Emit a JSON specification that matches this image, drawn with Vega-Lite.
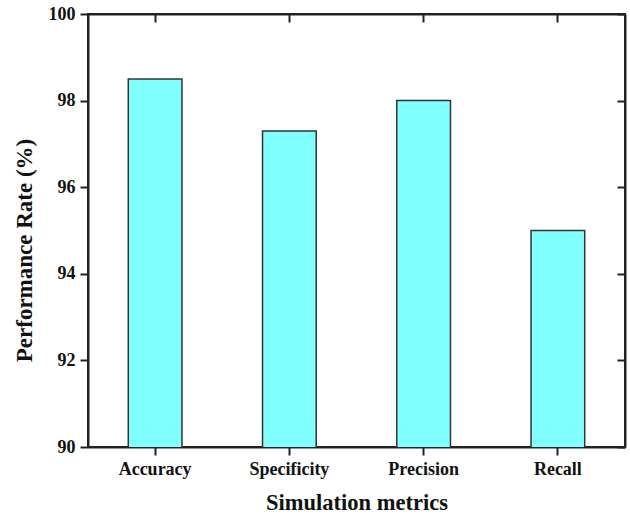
{
  "$schema": "https://vega.github.io/schema/vega-lite/v6.json",
  "width": 537,
  "height": 433,
  "autosize": {"type": "none"},
  "padding": {"left": 88, "top": 14, "right": 5, "bottom": 71},
  "background": "white",
  "config": {
    "view": {"stroke": "#222", "strokeWidth": 2},
    "font": "Liberation Serif"
  },
  "data": {"values": [
    {"metric": "Accuracy", "value": 98.5},
    {"metric": "Specificity", "value": 97.3},
    {"metric": "Precision", "value": 98.0},
    {"metric": "Recall", "value": 95.0}
  ]},
  "layer": [
    {
      "mark": {"type": "bar", "fill": "#80FFFF", "stroke": "#333", "strokeWidth": 1.5, "clip": true},
      "encoding": {
        "x": {"field": "metric", "type": "nominal", "sort": null,
          "scale": {"paddingInner": 0.6, "paddingOuter": 0.3},
          "axis": {"orient": "bottom", "labelAngle": 0, "labelPadding": 5, "title": "Simulation metrics",
            "domainColor": "#222", "domainWidth": 2, "tickColor": "#222", "tickWidth": 2, "tickSize": 8, "grid": false,
            "labelFont": "Liberation Serif", "labelFontWeight": "bold", "labelFontSize": 18, "labelColor": "#111",
            "titleFont": "Liberation Serif", "titleFontWeight": "bold", "titleColor": "#111", "titleFontSize": 22.5, "titlePadding": 13}},
        "y": {"field": "value", "type": "quantitative",
          "scale": {"domain": [90, 100], "zero": false, "nice": false},
          "axis": {"orient": "left", "values": [90, 92, 94, 96, 98, 100], "labelPadding": 5, "title": "Performance Rate (%)",
            "domainColor": "#222", "domainWidth": 2, "tickColor": "#222", "tickWidth": 2, "tickSize": 8, "grid": false,
            "labelFont": "Liberation Serif", "labelFontWeight": "bold", "labelFontSize": 18, "labelColor": "#111",
            "titleFont": "Liberation Serif", "titleFontWeight": "bold", "titleColor": "#111", "titleFontSize": 23, "titlePadding": 12, "titleY": 236}}
      }
    },
    {
      "mark": {"type": "bar", "opacity": 0, "clip": true},
      "encoding": {
        "x": {"field": "metric", "type": "nominal", "sort": null,
          "axis": {"orient": "top", "labels": false, "title": null, "tickSize": -8,
            "domainColor": "#222", "domainWidth": 2, "tickColor": "#222", "tickWidth": 2, "grid": false}},
        "y": {"field": "value", "type": "quantitative",
          "axis": {"orient": "right", "values": [90, 92, 94, 96, 98, 100], "labels": false, "title": null, "tickSize": -8,
            "domainColor": "#222", "domainWidth": 2, "tickColor": "#222", "tickWidth": 2, "grid": false}}
      }
    }
  ],
  "resolve": {"axis": {"x": "independent", "y": "independent"}}
}
